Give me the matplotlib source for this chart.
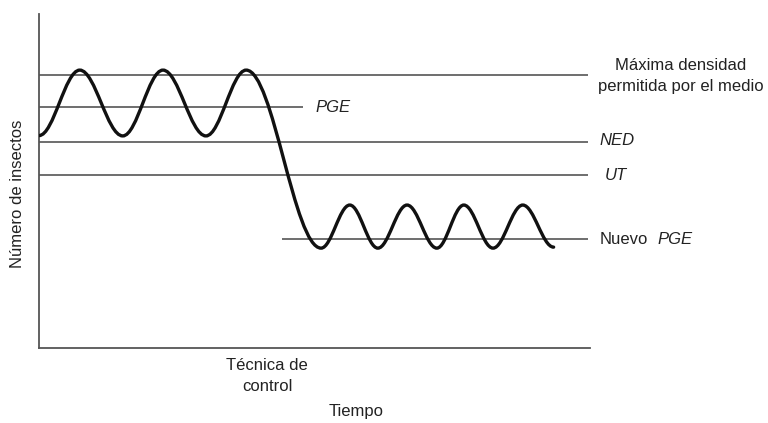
import matplotlib
matplotlib.use("Agg")
import matplotlib.pyplot as plt
from matplotlib.path import Path
from matplotlib.patches import PathPatch

plt.rcParams['font.family'] = ['Liberation Sans', 'DejaVu Sans']

# ---- data (arbitrary units, axes 0..100) ----
# extrema of the population curve (time, number of insects)
curve_x = [0, 7.4, 15.2, 22.5, 30.3, 37.6, 51.2, 56.4, 61.5, 66.8, 72.2, 77.1, 82.4, 87.8, 93.4]
curve_y = [63.6, 83.2, 63.5, 83.2, 63.5, 83.2, 29.9, 42.8, 29.9, 42.8, 29.9, 42.8, 29.9, 42.8, 30.2]

# reference levels: name, level, start, end
level_names = ["Máxima densidad", "PGE", "NED", "UT", "Nuevo PGE"]
level_values = [81.7, 72.2, 61.7, 51.8, 32.6]
level_start = [0, 0, 0, 0, 44.1]
level_end = [99.6, 47.9, 99.6, 99.6, 99.6]

W, H = 768, 423
fig = plt.figure(figsize=(W / 100, H / 100), dpi=100)
fig.patch.set_facecolor("white")

def fx(px):
    return px / W

def fy(py):
    return 1 - py / H

left, right, top, bottom = 39, 590, 14, 348
ax = fig.add_axes([fx(left), fy(bottom), (right - left) / W, (bottom - top) / H])
ax.set_xlim(0, 100)
ax.set_ylim(0, 100)
ax.set_xticks([])
ax.set_yticks([])
for s in ["top", "right"]:
    ax.spines[s].set_visible(False)
for s in ["left", "bottom"]:
    ax.spines[s].set_color("#555555")
    ax.spines[s].set_linewidth(1.3)

line_col = "#555555"
for v, a, b in zip(level_values, level_start, level_end):
    ax.plot([a, b], [v, v], color=line_col, lw=1.2, solid_capstyle="butt", zorder=2)

# smooth curve through extrema: cubic Bezier segments with horizontal tangents
k = 0.3642
verts = [(curve_x[0], curve_y[0])]
codes = [Path.MOVETO]
for i in range(1, len(curve_x)):
    x0, y0 = curve_x[i - 1], curve_y[i - 1]
    x1, y1 = curve_x[i], curve_y[i]
    dx = x1 - x0
    verts += [(x0 + k * dx, y0), (x1 - k * dx, y1), (x1, y1)]
    codes += [Path.CURVE4, Path.CURVE4, Path.CURVE4]
patch = PathPatch(Path(verts, codes), facecolor="none", edgecolor="#111111",
                  lw=2.4, capstyle="round", zorder=3)
ax.add_patch(patch)

tc = "#222222"
fs = 12
fig.text(fx(681), fy(76), "Máxima densidad\npermitida por el medio", ha="center", va="center",
         fontsize=fs, color=tc, linespacing=1.55)
fig.text(fx(315), fy(108), "PGE", ha="left", va="center", fontsize=fs, color=tc, style="italic")
fig.text(fx(599), fy(140), "NED", ha="left", va="center", fontsize=fs, color=tc, style="italic")
fig.text(fx(605), fy(175), "UT", ha="left", va="center", fontsize=fs, color=tc, style="italic")
fig.text(fx(600), fy(239), "Nuevo", ha="left", va="center", fontsize=fs, color=tc)
fig.text(fx(657), fy(239), "PGE", ha="left", va="center", fontsize=fs, color=tc, style="italic")
fig.text(fx(267), fy(376), "Técnica de\ncontrol", ha="center", va="center", fontsize=fs,
         color=tc, linespacing=1.5)
fig.text(fx(356), fy(411), "Tiempo", ha="center", va="center", fontsize=fs, color=tc)
fig.text(fx(18), fy(194), "Número de insectos", ha="center", va="center", fontsize=fs,
         color=tc, rotation=90)

fig.savefig("out.png", dpi=100, facecolor="white")
